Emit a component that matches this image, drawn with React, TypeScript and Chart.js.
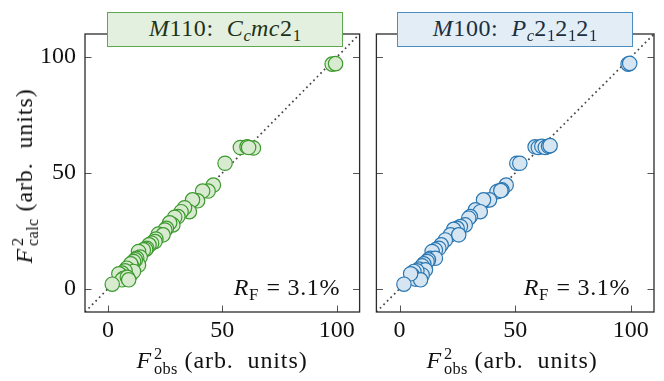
import React, { useEffect, useRef } from "react";
import { Chart, registerables } from "chart.js";

Chart.register(...registerables);

const AXIS_MIN = -10;
const AXIS_MAX = 110;
const TICK_VALUES = [0, 50, 100];
const DIAGONAL = [-10, 110];

// M110: Cc mc 2_1  (F^2 observed vs calculated)
const M110_OBS = [98.0, 99.5, 57.9, 60.8, 63.6, 61.5, 51.2, 46.1, 43.8, 41.4, 39.2, 37.0, 35.6, 33.5, 32.0, 30.6, 29.2, 28.4, 27.0, 25.6, 24.9, 22.0, 24.1, 21.0, 20.6, 19.1, 18.0, 17.0, 16.5, 15.5, 13.4, 14.1, 12.6, 13.4, 12.0, 11.2, 10.5, 10.0, 9.1, 8.3, 9.8, 11.2, 7.5, 6.2, 5.5, 4.8, 6.9, 6.2, 8.5, 9.1, 1.9];
const M110_CALC = [97.0, 97.2, 61.0, 61.3, 60.8, 61.0, 54.2, 44.8, 42.2, 42.2, 38.0, 38.4, 33.3, 35.0, 33.3, 31.2, 30.9, 27.6, 28.5, 26.1, 25.4, 23.6, 23.3, 21.5, 20.4, 19.7, 19.0, 17.5, 17.0, 16.8, 16.1, 13.7, 13.2, 10.3, 12.5, 11.8, 9.6, 10.8, 8.2, 8.9, 6.0, 7.5, 7.8, 6.8, 6.0, 6.5, 4.6, 3.9, 5.0, 3.9, 2.0];

// M100: Pc 2_1 2_1 2_1
const M100_OBS = [98.8, 99.5, 58.6, 60.0, 61.5, 63.0, 64.4, 65.1, 50.7, 52.0, 46.1, 42.8, 44.3, 42.1, 43.8, 37.1, 38.9, 36.3, 32.8, 34.9, 30.6, 29.9, 28.4, 26.3, 24.9, 23.4, 22.0, 25.6, 19.8, 18.0, 17.0, 15.5, 14.1, 13.4, 15.5, 12.5, 11.9, 10.5, 9.8, 8.3, 11.2, 9.8, 7.5, 6.2, 5.5, 6.9, 9.1, 4.8, 1.9];
const M100_CALC = [97.0, 97.3, 61.3, 61.0, 61.5, 61.0, 61.5, 61.8, 54.2, 54.2, 44.8, 42.2, 42.7, 41.9, 42.4, 38.1, 38.4, 38.4, 34.1, 33.3, 31.2, 30.5, 27.6, 26.9, 26.1, 25.7, 23.3, 23.3, 21.1, 19.0, 17.5, 16.8, 16.1, 13.2, 13.2, 12.5, 11.8, 10.8, 9.9, 8.5, 8.2, 6.0, 7.8, 7.5, 6.0, 4.2, 3.9, 6.5, 2.0];

const R_F_M110 = "3.1%";
const R_F_M100 = "3.1%";

const FONT = '"Liberation Serif", "DejaVu Serif", serif';
const FRAME = "#2b2b2b";

const framePlugin = {
  id: "frameTicks",
  afterDraw(chart: any) {
    const { ctx, chartArea } = chart;
    const { left, right, top, bottom } = chartArea;
    const xs = chart.scales.x;
    const ys = chart.scales.y;
    const tl = 6.5;
    ctx.save();
    ctx.strokeStyle = "#555";
    ctx.lineWidth = 1;
    ctx.beginPath();
    xs.ticks.forEach((t: any) => {
      const px = Math.round(xs.getPixelForValue(t.value)) + 0.5;
      ctx.moveTo(px, bottom);
      ctx.lineTo(px, bottom - tl);
      ctx.moveTo(px, top);
      ctx.lineTo(px, top + tl);
    });
    ys.ticks.forEach((t: any) => {
      const py = Math.round(ys.getPixelForValue(t.value)) + 0.5;
      ctx.moveTo(left, py);
      ctx.lineTo(left + tl, py);
      ctx.moveTo(right, py);
      ctx.lineTo(right - tl, py);
    });
    ctx.stroke();
    ctx.strokeStyle = FRAME;
    ctx.lineWidth = 1.3;
    ctx.strokeRect(left, top, right - left, bottom - top);
    ctx.restore();
  },
};

function buildChart(
  canvas: HTMLCanvasElement,
  obs: number[],
  calc: number[],
  fill: string,
  edge: string,
  yWidth: number,
  rightPad: number,
  showYLabels: boolean
) {
  const setTicks = (s: any) => {
    s.ticks = TICK_VALUES.map((v) => ({ value: v }));
  };
  return new Chart(canvas, {
    type: "scatter",
    data: {
      datasets: [
        {
          data: obs.map((x, i) => ({ x, y: calc[i] })),
          pointRadius: 7.2,
          pointHoverRadius: 7.2,
          backgroundColor: fill,
          borderColor: edge,
          borderWidth: 1.2,
        } as any,
        {
          type: "line",
          data: DIAGONAL.map((v) => ({ x: v, y: v })),
          showLine: true,
          pointRadius: 0,
          borderColor: "#444",
          borderWidth: 1.7,
          borderDash: [1.7, 3.3],
          fill: false,
        } as any,
      ],
    },
    options: {
      responsive: false,
      animation: false,
      devicePixelRatio: 1,
      events: [],
      layout: { padding: { top: 34, right: rightPad, left: 0, bottom: 0 } },
      plugins: { legend: { display: false }, tooltip: { enabled: false } },
      scales: {
        x: {
          type: "linear",
          min: AXIS_MIN,
          max: AXIS_MAX,
          grid: { display: false, drawTicks: false },
          border: { display: false },
          ticks: {
            font: { family: FONT, size: 24 },
            color: "#111",
            padding: 4,
            maxRotation: 0,
            autoSkip: false,
          },
          afterBuildTicks: setTicks,
          afterFit: (s: any) => {
            s.height = 69;
          },
        },
        y: {
          type: "linear",
          min: AXIS_MIN,
          max: AXIS_MAX,
          grid: { display: false, drawTicks: false },
          border: { display: false },
          ticks: {
            display: showYLabels,
            font: { family: FONT, size: 24 },
            color: "#111",
            padding: 9,
            autoSkip: false,
          },
          afterBuildTicks: setTicks,
          afterFit: (s: any) => {
            s.width = yWidth;
          },
        },
      },
    } as any,
    plugins: [framePlugin],
  });
}

const scriptStack = (sup: string, sub: string) => (
  <span
    style={{
      display: "inline-flex",
      flexDirection: "column",
      fontSize: "0.68em",
      lineHeight: 0.92,
      verticalAlign: "9px",
      marginLeft: 2,
      fontStyle: "normal",
      letterSpacing: 0.3,
    }}
  >
    <span>{sup}</span>
    <span>{sub}</span>
  </span>
);

const sub = (t: string, italic = false) => (
  <span
    style={{
      position: "relative",
      top: "0.3em",
      fontSize: "0.7em",
      fontStyle: italic ? "italic" : "normal",
      letterSpacing: 0,
    }}
  >
    {t}
  </span>
);

export default function App() {
  const leftRef = useRef<HTMLCanvasElement>(null);
  const rightRef = useRef<HTMLCanvasElement>(null);

  useEffect(() => {
    document.body.style.margin = "0";
    const c1 = buildChart(leftRef.current!, M110_OBS, M110_CALC, "#d8ebd1", "#3c9a2d", 85, 5, true);
    const c2 = buildChart(rightRef.current!, M100_OBS, M100_CALC, "#d5e5f2", "#2b77b2", 7, 10, false);
    return () => {
      c1.destroy();
      c2.destroy();
    };
  }, []);

  const abs = (extra: any) => ({ position: "absolute" as const, whiteSpace: "nowrap" as const, lineHeight: 1, ...extra });

  const titleBox = (left: number, bg: string, border: string, color: string, content: any) => (
    <div
      style={abs({
        left,
        top: 12,
        width: 236,
        height: 35,
        boxSizing: "border-box",
        background: bg,
        border: `1.3px solid ${border}`,
        color,
        display: "flex",
        alignItems: "center",
        justifyContent: "center",
        fontSize: 24,
        letterSpacing: 0.6,
        paddingBottom: 3,
      })}
    >
      {content}
    </div>
  );

  const xTitle = (cx: number) => (
    <div style={abs({ left: cx, top: 361, transform: "translate(-50%, -50%)", fontSize: 24, color: "#111", letterSpacing: 0.9 })}>
      <i>F</i>
      {scriptStack("2", "obs")}
      <span style={{ marginLeft: 7 }}>(arb.&nbsp;&nbsp;units)</span>
    </div>
  );

  const rf = (rightEdge: number, val: string) => (
    <div style={abs({ right: 664 - rightEdge, top: 275, fontSize: 24, color: "#111", letterSpacing: 0.6 })}>
      <i>R</i>
      {sub("F")}
      <span style={{ margin: "0 7px 0 8px" }}>=</span>
      {val}
    </div>
  );

  return (
    <div style={{ position: "relative", width: 664, height: 381, fontFamily: FONT, overflow: "hidden" }}>
      <canvas ref={leftRef} width={368} height={381} style={{ position: "absolute", left: 0, top: 0, width: 368, height: 381 }} />
      <canvas ref={rightRef} width={296} height={381} style={{ position: "absolute", left: 368, top: 0, width: 296, height: 381 }} />
      {titleBox(
        107,
        "#e4f0df",
        "#5ea84d",
        "#1d3318",
        <span>
          <i>M</i>110:&nbsp; <i>C</i>
          {sub("c", true)}
          <i>mc</i>2{sub("1")}
        </span>
      )}
      {titleBox(
        397,
        "#e2edf5",
        "#4d8ec2",
        "#1b2f40",
        <span>
          <i>M</i>100:&nbsp; <i>P</i>
          {sub("c", true)}2{sub("1")}2{sub("1")}2{sub("1")}
        </span>
      )}
      {rf(340, R_F_M110)}
      {rf(630, R_F_M100)}
      {xTitle(222)}
      {xTitle(512)}
      <div
        style={abs({
          left: 25,
          top: 176,
          transform: "translate(-50%, -50%) rotate(-90deg)",
          fontSize: 24,
          color: "#111",
          letterSpacing: 0.9,
        })}
      >
        <i>F</i>
        {scriptStack("2", "calc")}
        <span style={{ marginLeft: 7 }}>(arb.&nbsp;&nbsp;units)</span>
      </div>
    </div>
  );
}
